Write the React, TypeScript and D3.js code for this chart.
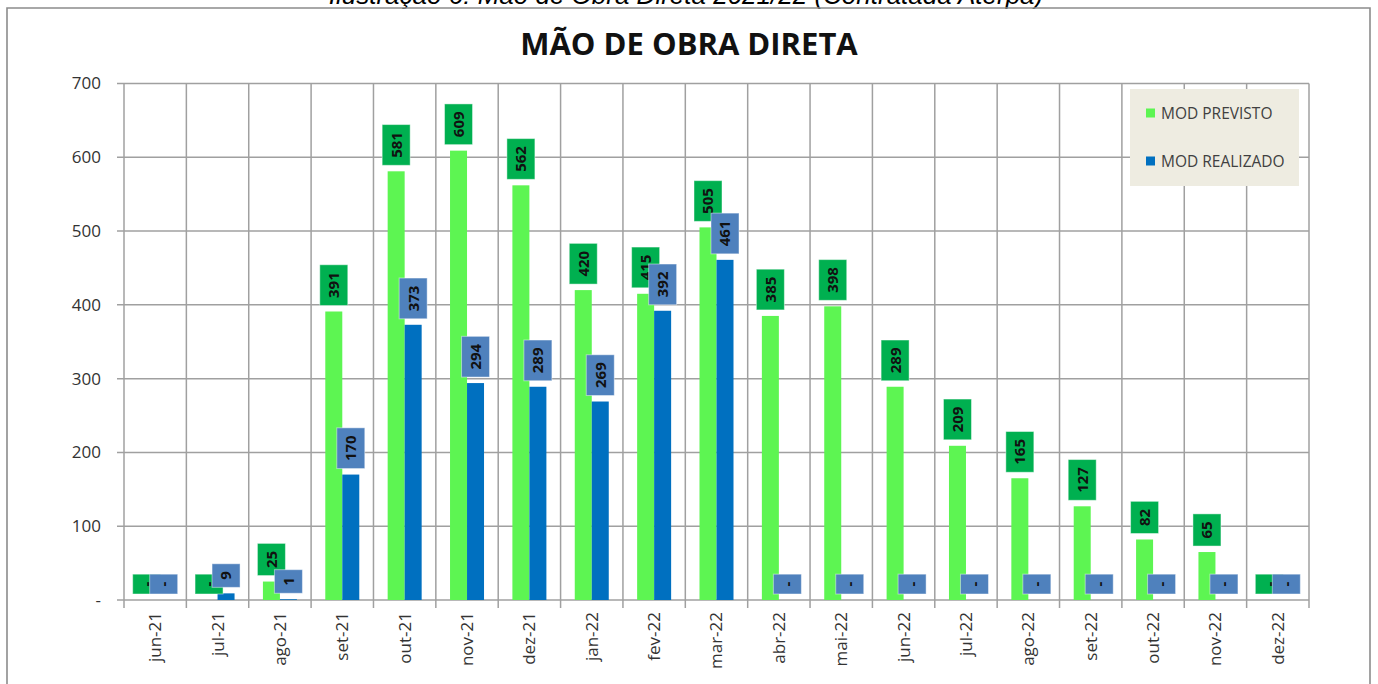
import React, { useEffect, useRef } from 'react';
import * as d3 from 'd3';

const width = 1378;
const height = 684;

const months = [
	'jun-21', 'jul-21', 'ago-21', 'set-21', 'out-21', 'nov-21', 'dez-21',
	'jan-22', 'fev-22', 'mar-22', 'abr-22', 'mai-22', 'jun-22', 'jul-22',
	'ago-22', 'set-22', 'out-22', 'nov-22', 'dez-22',
];
const previsto = [0, 0, 25, 391, 581, 609, 562, 420, 415, 505, 385, 398, 289, 209, 165, 127, 82, 65, 0];
const realizado = [0, 9, 1, 170, 373, 294, 289, 269, 392, 461, 0, 0, 0, 0, 0, 0, 0, 0, 0];
const yTicks = [0, 100, 200, 300, 400, 500, 600, 700];
const seriesNames = ['MOD PREVISTO', 'MOD REALIZADO'];

const barColors = ['#5df552', '#0070c0'];
const labelColors = ['#00b050', '#4f81bd'];
const gridColor = '#a0a0a0';
const font = '"Open Sans", sans-serif';

const fmt = (v: number) => (v === 0 ? '-' : String(v));

const App = () => {
	const ref = useRef<SVGSVGElement>(null);

	useEffect(() => {
		const svg = d3.select(ref.current);
		svg.selectAll('*').remove();

		const x0 = d3.scaleBand<string>().domain(months).range([124, 1309]);
		const bw = x0.bandwidth();
		const x1 = d3.scaleBand<string>().domain(['0', '1']).range([bw / 2 - 17, bw / 2 + 17]);
		const y = d3.scaleLinear().domain([0, 700]).range([600, 83.5]);

		// caption cut off at the top of the page, as in the scanned page
		svg.append('text')
			.attr('x', 686)
			.attr('y', 4)
			.attr('text-anchor', 'middle')
			.attr('font-family', '"Liberation Sans", sans-serif')
			.attr('font-style', 'italic')
			.attr('font-size', 26)
			.text('Ilustração 6: Mão de Obra Direta 2021/22 (Contratada Aterpa)');

		// chart frame
		svg.append('path')
			.attr('d', `M7,${height} V8 H1370 V${height}`)
			.attr('fill', 'none')
			.attr('stroke', '#8c8c8c')
			.attr('stroke-width', 1.6);

		svg.append('text')
			.attr('x', 689)
			.attr('y', 55)
			.attr('text-anchor', 'middle')
			.attr('font-family', font)
			.attr('font-weight', 700)
			.attr('font-size', 31)
			.attr('fill', '#111')
			.text('MÃO DE OBRA DIRETA');

		const grid = svg.append('g').attr('stroke', gridColor).attr('stroke-width', 1.5);
		grid.selectAll('line.h')
			.data(yTicks)
			.join('line')
			.attr('class', 'h')
			.attr('x1', 117)
			.attr('x2', 1309)
			.attr('y1', (d) => y(d))
			.attr('y2', (d) => y(d));
		const bounds = months.map((m) => x0(m)!).concat([x0.range()[1]]);
		grid.selectAll('line.v')
			.data(bounds)
			.join('line')
			.attr('class', 'v')
			.attr('x1', (d) => d)
			.attr('x2', (d) => d)
			.attr('y1', y(700))
			.attr('y2', 608);

		svg.append('g')
			.selectAll('text')
			.data(yTicks)
			.join('text')
			.attr('x', 101)
			.attr('y', (d) => y(d))
			.attr('dy', '0.35em')
			.attr('text-anchor', 'end')
			.attr('font-family', font)
			.attr('font-size', 17)
			.attr('fill', '#333')
			.text((d) => fmt(d));

		svg.append('g')
			.selectAll('text')
			.data(months)
			.join('text')
			.attr('transform', (d) => `translate(${x0(d)! + bw / 2},612) rotate(-90)`)
			.attr('dy', '0.35em')
			.attr('text-anchor', 'end')
			.attr('font-family', font)
			.attr('font-size', 17)
			.attr('fill', '#333')
			.text((d) => d);

		const series = [previsto, realizado];
		series.forEach((values, s) => {
			svg.append('g')
				.selectAll('rect')
				.data(values)
				.join('rect')
				.attr('x', (_, i) => x0(months[i])! + x1(String(s))!)
				.attr('width', x1.bandwidth())
				.attr('y', (d) => y(d))
				.attr('height', (d) => y(0) - y(d))
				.attr('fill', barColors[s]);
		});

		// data labels in boxes, green series first so blue boxes sit on top
		series.forEach((values, s) => {
			const labels = svg.append('g')
				.selectAll('g')
				.data(values)
				.join('g')
				.attr('transform', (d, i) =>
					`translate(${x0(months[i])! + x1(String(s))! + x1.bandwidth() / 2},${y(d) - 6})`);
			labels.each(function (d) {
				const g = d3.select(this);
				const rect = g.append('rect').attr('fill', labelColors[s])
					.attr('stroke', 'rgba(255,255,255,0.45)').attr('stroke-width', 1);
				const t = g.append('text')
					.attr('transform', 'translate(0,-7.5) rotate(-90)')
					.attr('dy', '0.36em')
					.attr('font-family', font)
					.attr('font-weight', 700)
					.attr('font-size', 15)
					.attr('fill', '#111')
					.text(fmt(d));
				const len = (t.node() as SVGTextElement).getComputedTextLength();
				rect.attr('x', -14).attr('width', 28).attr('y', -(len + 15)).attr('height', len + 15);
			});
		});

		const legend = svg.append('g');
		legend.append('rect')
			.attr('x', 1130).attr('y', 89).attr('width', 169).attr('height', 97)
			.attr('fill', '#eeece1');
		const items = legend.selectAll('g')
			.data(seriesNames)
			.join('g')
			.attr('transform', (_, i) => `translate(1146,${113 + i * 48})`);
		items.append('rect')
			.attr('x', 0).attr('y', -4.5).attr('width', 9).attr('height', 9)
			.attr('fill', (_, i) => barColors[i]);
		items.append('text')
			.attr('x', 15)
			.attr('dy', '0.36em')
			.attr('font-family', font)
			.attr('font-size', 15.5)
			.attr('fill', '#404040')
			.text((d) => d);
	}, []);

	return (
		<div style={{ position: 'absolute', left: 0, top: 0 }}>
			<svg ref={ref} width={width} height={height} style={{ display: 'block', background: '#fff' }} />
		</div>
	);
};

export default App;
